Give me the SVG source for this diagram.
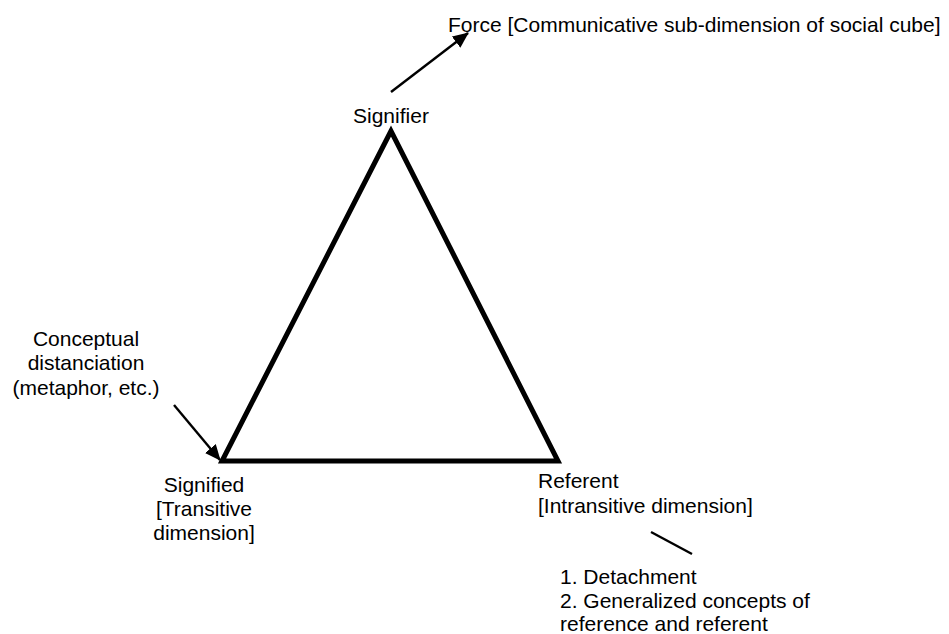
<svg xmlns="http://www.w3.org/2000/svg" width="949" height="634" viewBox="0 0 949 634">
<defs>
<style>
text{font-family:"Liberation Sans",Arial,sans-serif;font-size:21px;fill:#000}
.c{text-anchor:middle}
.conn{stroke:#000;stroke-width:2.4;fill:none}
</style>
<marker id="ah" viewBox="0 0 16 14" refX="15" refY="7" markerWidth="16" markerHeight="14" markerUnits="userSpaceOnUse" orient="auto">
<path d="M0,0 L16,7 L0,14 z" fill="#000"/>
</marker>
</defs>
<rect width="949" height="634" fill="#fff"/>
<g id="triangle">
<polygon points="391,131 222,461 558,461" fill="none" stroke="#000" stroke-width="5" stroke-linejoin="miter"/>
</g>
<g id="connectors">
<line class="conn" x1="391" y1="92" x2="468" y2="33" marker-end="url(#ah)"/>
<line class="conn" x1="174" y1="405" x2="220" y2="460" marker-end="url(#ah)"/>
<line class="conn" x1="651" y1="532" x2="692" y2="554"/>
</g>
<g id="force"><text x="448" y="32">Force [Communicative sub-dimension of social cube]</text></g>
<g id="signifier"><text x="353" y="123">Signifier</text></g>
<g id="conceptual">
<text class="c" x="86" y="346">Conceptual</text>
<text class="c" x="86" y="370">distanciation</text>
<text class="c" x="86" y="395">(metaphor, etc.)</text>
</g>
<g id="signified">
<text class="c" x="204" y="492">Signified</text>
<text class="c" x="204" y="516">[Transitive</text>
<text class="c" x="204" y="540">dimension]</text>
</g>
<g id="referent">
<text x="538" y="488">Referent</text>
<text x="538" y="513">[Intransitive dimension]</text>
</g>
<g id="detachment">
<text x="560" y="584">1. Detachment</text>
<text x="560" y="608">2. Generalized concepts of</text>
<text x="560" y="631">reference and referent</text>
</g>
</svg>
